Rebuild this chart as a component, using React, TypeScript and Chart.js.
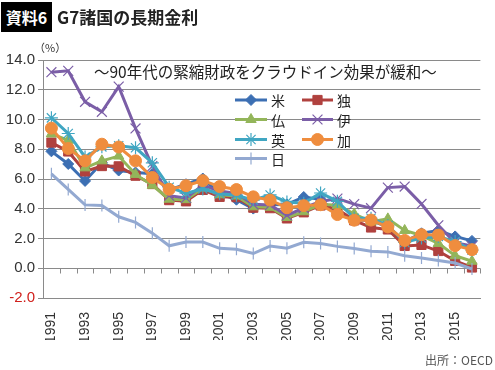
import React, { useEffect, useRef } from 'react';
import { Chart, registerables } from 'chart.js';
import { drawPoint } from 'chart.js/helpers';

Chart.register(...registerables);

const years = ['1991','1992','1993','1994','1995','1996','1997','1998','1999','2000','2001','2002','2003','2004','2005','2006','2007','2008','2009','2010','2011','2012','2013','2014','2015','2016'];
const yTicks = [-2, 0, 2, 4, 6, 8, 10, 12, 14];

const usa = [7.86,7.01,5.87,7.09,6.57,6.44,6.35,5.26,5.65,6.03,5.02,4.61,4.01,4.27,4.29,4.79,4.63,3.67,3.26,3.21,2.79,1.80,2.35,2.54,2.14,1.84];
const germany = [8.45,7.85,6.51,6.87,6.85,6.22,5.66,4.58,4.50,5.27,4.80,4.78,4.07,4.04,3.35,3.76,4.22,3.98,3.22,2.74,2.61,1.50,1.57,1.16,0.50,0.05];
const france = [9.03,8.60,6.75,7.22,7.54,6.31,5.58,4.64,4.61,5.39,4.94,4.86,4.13,4.10,3.41,3.80,4.30,4.23,3.65,3.12,3.32,2.54,2.20,1.67,0.84,0.47];
const italy = [13.18,13.27,11.19,10.52,12.21,9.40,6.86,4.88,4.73,5.58,5.19,5.03,4.30,4.26,3.56,4.05,4.49,4.68,4.31,4.04,5.42,5.49,4.32,2.89,1.71,1.49];
const uk = [10.11,9.06,7.48,8.16,8.23,8.10,7.09,5.45,5.05,5.33,5.01,4.91,4.58,4.93,4.46,4.37,5.06,4.50,3.36,3.36,2.87,1.74,2.03,2.14,1.79,1.22];
const canada = [9.42,8.05,7.22,8.34,8.15,7.22,6.10,5.31,5.55,5.89,5.49,5.29,4.80,4.58,4.07,4.21,4.27,3.61,3.23,3.24,2.78,1.87,2.26,2.23,1.52,1.25];
const japan = [6.35,5.30,4.26,4.22,3.46,3.08,2.36,1.51,1.76,1.76,1.34,1.27,0.99,1.49,1.35,1.74,1.67,1.47,1.33,1.15,1.10,0.84,0.69,0.52,0.35,-0.05];

const seriesNames = ['米', '独', '仏', '伊', '英', '加', '日'];
const seriesData = [usa, germany, france, italy, uk, canada, japan];
const seriesColors = ['#3C6FB3', '#B0413E', '#93B55A', '#7B5EA7', '#40A6C2', '#EF8D3E', '#93A9D1'];
const seriesStyles = ['rectRot', 'rect', 'triangle', 'crossRot', 'star', 'circle', 'line'];
const seriesRadius = [5.5, 6.5, 6, 7, 6.5, 6, 6];
const seriesRotation = [0, 0, 0, 0, 0, 0, 90];
const seriesOrder = [7, 6, 5, 4, 3, 2, 1];

const GRID = '#8a8a8a';
const NUM_FONT = "'Liberation Sans', Arial, sans-serif";
const JP_FONT = "'Noto Sans CJK JP', sans-serif";

const zeroTicks = {
  id: 'zeroTicks',
  beforeDatasetsDraw(chart: any) {
    const x = chart.scales.x;
    const y = chart.scales.y;
    const ctx = chart.ctx;
    const half = (x.getPixelForValue(1) - x.getPixelForValue(0)) / 2;
    const y0 = Math.round(y.getPixelForValue(0)) + 0.5;
    ctx.save();
    ctx.strokeStyle = GRID;
    ctx.lineWidth = 1;
    ctx.beginPath();
    for (let i = 0; i <= years.length; i++) {
      const px = Math.round(x.getPixelForValue(i) - half) + 0.5;
      ctx.moveTo(px, y0);
      ctx.lineTo(px, y0 + 5);
    }
    ctx.stroke();
    ctx.restore();
  },
};

const legendPlugin = {
  id: 'inLegend',
  afterDraw(chart: any) {
    const ctx = chart.ctx;
    const cols = [[235, 267, 271], [302, 333, 337]];
    const rows = [100, 119.5, 139.5, 158.5];
    ctx.save();
    seriesNames.forEach((name, i) => {
      const c = cols[i % 2];
      const r = rows[Math.floor(i / 2)];
      ctx.strokeStyle = seriesColors[i];
      ctx.fillStyle = seriesColors[i];
      ctx.lineWidth = 3;
      ctx.beginPath();
      ctx.moveTo(c[0], r);
      ctx.lineTo(c[1], r);
      ctx.stroke();
      ctx.lineWidth = seriesStyles[i] === 'crossRot' || seriesStyles[i] === 'star' || seriesStyles[i] === 'line' ? 1.2 : 1;
      drawPoint(ctx, { pointStyle: seriesStyles[i], radius: seriesRadius[i], rotation: seriesRotation[i], borderWidth: ctx.lineWidth } as any, (c[0] + c[1]) / 2, r);
      ctx.fillStyle = '#222';
      ctx.font = `14px ${JP_FONT}`;
      ctx.textBaseline = 'middle';
      ctx.textAlign = 'left';
      ctx.fillText(name, c[2], r + 1);
    });
    ctx.restore();
  },
};

export default function App() {
  const ref = useRef<HTMLCanvasElement>(null);
  useEffect(() => {
    if (!ref.current) return;
    const chart = new Chart(ref.current, {
      type: 'line',
      data: {
        labels: years,
        datasets: seriesNames.map((name, i) => {
          const thin = seriesStyles[i] === 'crossRot' || seriesStyles[i] === 'star' || seriesStyles[i] === 'line';
          return {
            label: name,
            data: seriesData[i],
            borderColor: seriesColors[i],
            backgroundColor: seriesColors[i],
            borderWidth: 3,
            pointStyle: seriesStyles[i] as any,
            pointRadius: seriesRadius[i],
            pointRotation: seriesRotation[i],
            pointBorderWidth: thin ? 1.2 : 1,
            pointBorderColor: seriesColors[i],
            pointBackgroundColor: seriesColors[i],
            tension: 0,
            order: seriesOrder[i],
          };
        }),
      },
      options: {
        responsive: false,
        animation: false,
        layout: { padding: { top: 60, left: 0, right: 12, bottom: 30 } },
        plugins: { legend: { display: false }, tooltip: { enabled: false } },
        scales: {
          x: {
            offset: true,
            grid: { display: false, offset: true },
            border: { display: true, color: GRID, width: 1 },
            ticks: {
              autoSkip: false,
              maxRotation: 90,
              minRotation: 90,
              padding: 6,
              color: '#333',
              font: { family: NUM_FONT, size: 14 },
              callback: (v: any, i: number) => (i % 2 === 0 ? years[i] : ''),
            },
            afterFit: (s: any) => { s.height = 42; },
          },
          y: {
            min: -2,
            max: 14,
            afterBuildTicks: (s: any) => { s.ticks = yTicks.map((v) => ({ value: v })); },
            grid: { color: GRID, lineWidth: 1, tickLength: 5, drawTicks: true },
            border: { display: true, color: GRID, width: 1 },
            ticks: {
              padding: 3,
              color: (c: any) => (c.tick && c.tick.value < 0 ? '#D0201C' : '#333'),
              font: { family: NUM_FONT, size: 15 },
              callback: (v: any) => Number(v).toFixed(1),
            },
            afterFit: (s: any) => { s.width = 43; },
          },
        },
      },
      plugins: [zeroTicks, legendPlugin],
    });
    return () => chart.destroy();
  }, []);

  return (
    <div style={{ position: 'fixed', left: 0, top: 0, width: 495, height: 370, background: '#fff', overflow: 'hidden' }}>
      <canvas ref={ref} width={495} height={370} style={{ position: 'absolute', left: 0, top: 0, width: 495, height: 370 }} />
      <div style={{ position: 'absolute', left: 1, top: 2, width: 51, height: 30, background: '#000', color: '#fff', fontFamily: JP_FONT, fontWeight: 700, fontSize: 16, lineHeight: '30px', textAlign: 'center' }}>資料6</div>
      <div style={{ position: 'absolute', left: 57, top: 2, height: 30, color: '#222', fontFamily: JP_FONT, fontWeight: 700, fontSize: 17, lineHeight: '30px', whiteSpace: 'nowrap' }}>G7諸国の長期金利</div>
      <div style={{ position: 'absolute', left: 34, top: 40, color: '#333', fontFamily: JP_FONT, fontSize: 11, lineHeight: '14px', whiteSpace: 'nowrap' }}>（%）</div>
      <div style={{ position: 'absolute', left: 94, top: 62, color: '#222', fontFamily: JP_FONT, fontSize: 15.5, lineHeight: '18px', whiteSpace: 'nowrap' }}>〜90年代の緊縮財政をクラウドイン効果が緩和〜</div>
      <div style={{ position: 'absolute', right: 2, top: 352, color: '#555', fontFamily: JP_FONT, fontSize: 12, lineHeight: '16px', whiteSpace: 'nowrap' }}>出所：OECD</div>
    </div>
  );
}
